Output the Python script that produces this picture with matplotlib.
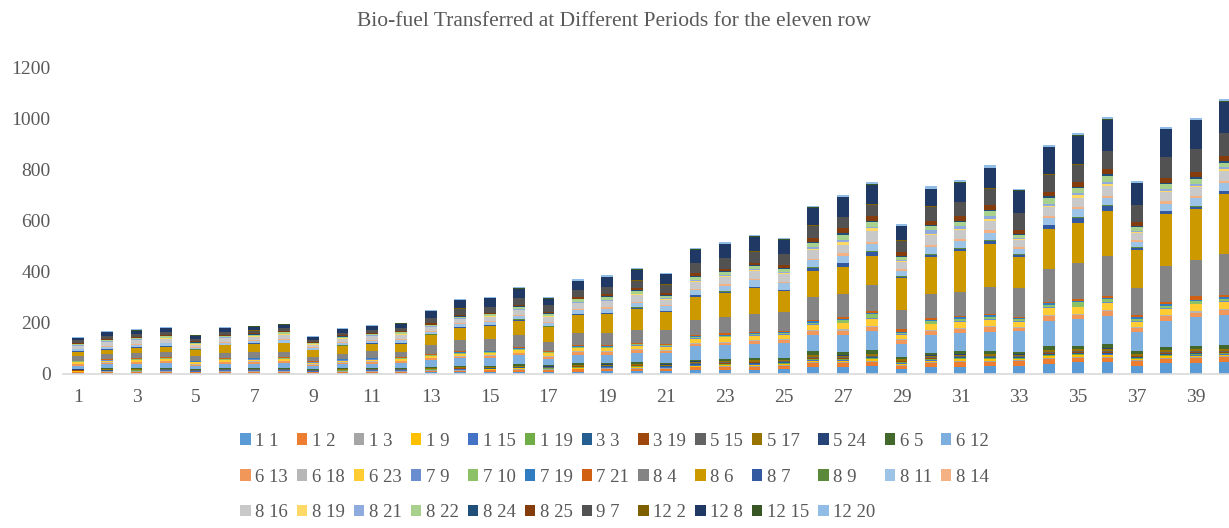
import matplotlib
matplotlib.use("Agg")
import matplotlib.pyplot as plt

periods = list(range(1, 41))

s_1_1 = [3,4,4,4,3,4,4,4,3,4,4,4, 6,6,7,8,8,9,10,11, 10,14,15,16,18,26, 29,30,20,26,29,30,33, 39,46,46,33,42,43,46]
s_1_2 = [4,4,4,5,4,5,5,5,4,4,5,5, 6,7,7,8,8,9,9,10, 9,12,12,13,12,16, 13,16,13,16,17,16,16, 20,16,16,16,17,18,20]
s_1_3 = [2,2,2,2,1,2,2,2,1,2,2,2, 2,2,2,3,2,3,3,3,3,3,4,4,4, 5,5,5,4,5,5,5,4,5,6,6,4,5,5,5]
s_1_9 = [1,1,2,2,1,2,2,2,1,2,2,2, 2,2,3,3,2,3,3,3,3,4,4,4,4, 5,5,6,4,5,6,6,5,6,6,6,5,6,6,5]
s_1_15 = [1,1,1,1,1,1,1,1,1,1,1,1, 1,1,1,1,1,1,1,2,1,2,2,2,2, 2,2,2,2,2,2,2,2,2,2,3,2,2,2,2]
s_1_19 = [1,1,1,1,1,1,1,1,1,1,1,1, 1,1,1,2,1,2,2,2,2,2,2,2,2, 3,3,3,2,3,3,3,2,3,3,3,3,3,3,3]
s_3_3 = [1,1,1,1,1,1,1,1,1,1,1,1, 1,2,2,2,2,2,2,2,2,2,2,3,3, 3,3,3,3,3,3,3,3,4,4,4,3,4,4,3]
s_3_19 = [1,1,1,1,1,1,1,1,1,1,1,1, 1,1,1,1,1,2,2,2,2,2,2,2,2, 3,3,3,2,3,3,3,3,4,3,3,3,4,5,3]
s_5_15 = [1,1,1,1,1,1,1,1,1,1,1,1, 1,1,1,1,1,1,1,1,1,2,2,2,2, 2,2,2,2,2,2,2,2,2,2,3,2,2,2,2]
s_5_17 = [2,2,2,2,2,2,2,2,2,2,2,2, 3,3,3,3,3,4,4,4,4,5,5,5,5, 9,6,7,5,6,6,7,6,8,8,8,6,8,8,8]
s_5_24 = [1,1,1,1,1,1,1,1,1,1,1,1, 1,1,1,1,1,1,1,1,1,1,1,2,2, 2,2,2,2,2,2,2,2,2,2,2,2,2,3,2]
s_6_5 = [3,3,3,3,3,3,3,3,3,3,3,3, 4,4,4,5,4,5,5,6,5,7,7,7,7, 13,13,14,8,10,10,10,9,13,12,16,9,12,12,13]
s_6_12 = [12,17,17,19,12,16,17,19,12,16,17,20, 26,30,30,35,24,33,33,37, 39,52,55,55,60,65, 68,75,51,68,72,77,81, 98,105,111,75,102,111,118]
s_6_13 = [5,5,5,6,5,6,6,6,5,5,6,6, 6,7,7,8,9,10,10,10, 9,10,10,11,11,13, 16,16,14,16,16,17,13, 20,16,20,16,16,18,20]
s_6_18 = [2,2,2,2,2,2,2,2,2,2,2,2, 2,2,3,3,2,3,3,3,3,4,4,4,4, 4,4,4,4,5,5,5,4,5,5,5,5,5,6,6]
s_6_23 = [6,6,7,7,6,7,7,7,5,6,7,7, 8,9,9,10,12,12,12,13, 12,15,16,17,16,20, 24,27,18,22,24,24,20, 27,24,26,20,24,26,26]
s_7_9 = [1,1,1,1,1,1,1,1,1,1,1,1, 1,1,1,1,1,2,2,2,2,2,2,2,2, 3,3,3,2,3,3,3,3,3,3,3,3,3,3,3]
s_7_10 = [2,2,2,2,2,2,2,2,2,2,2,2, 2,3,3,3,3,4,4,4,4,5,5,5,5, 7,9,17,6,9,8,9,6,8,17,12,9,9,9,9]
s_7_19 = [1,1,2,2,1,2,2,2,1,2,2,2, 2,2,2,3,2,3,3,3,3,3,4,4,4, 5,5,5,4,5,5,5,4,7,6,6,5,6,6,7]
s_7_21 = [2,2,2,2,2,2,2,2,2,3,2,2, 3,4,3,3,4,4,4,4,4,5,5,5,5, 6,6,5,10,6,6,6,6,6,6,6,9,9,14,8]
s_8_4 = [17,20,21,21,20,20,24,22,17,20,26,20, 35,43,46,50,35,48,46,50, 52,60,62,70,71,89, 93,101,75,94,94,105,112, 130,140,158,105,141,140,160]
s_8_6 = [18,17,20,21,22,30,31,33,25,29,29,33, 38,48,51,55,56,69,74,81, 70,90,95,100,82,103, 106,114,124,148,158,170,123, 153,158,173,150,205,200,233]
s_8_7 = [2,2,2,2,2,2,2,2,2,2,2,2, 2,3,3,3,3,4,4,4,4,5,5,5,5, 11,12,17,6,8,9,10,7,16,20,20,8,9,10,12]
s_8_9 = [1,1,1,1,1,1,1,1,1,1,1,1, 1,1,1,2,1,2,2,2,2,2,2,2,2, 3,3,3,2,3,3,3,2,3,3,3,3,3,3,3]
s_8_11 = [6,9,9,10,6,8,8,11,6,9,9,11, 10,12,12,14,15,14,16,18, 17,20,22,24,25,26, 27,29,20,26,27,30,21, 26,30,29,21,26,29,29]
s_8_14 = [3,3,3,3,3,3,3,3,3,3,3,3, 3,3,3,4,3,4,4,4,4,5,5,5,5, 7,10,8,7,9,8,9,7,8,8,9,7,10,10,9]
s_8_16 = [10,14,14,15,10,13,13,17,10,14,15,18, 14,15,16,17,19,22,24,26, 22,27,28,30,30,34, 33,42,26,37,35,35,27, 33,37,37,26,35,33,39]
s_8_19 = [2,2,2,2,2,2,2,2,2,2,2,2, 2,2,2,3,2,3,3,3,3,4,4,4,4, 5,10,10,5,6,6,7,5,7,10,8,5,7,7,7]
s_8_21 = [2,2,2,2,2,2,2,2,2,2,2,2, 2,2,2,3,2,3,3,3,3,4,4,4,4, 6,10,6,5,13,10,13,5,8,8,8,5,7,7,7]
s_8_22 = [4,4,5,5,4,4,5,5,3,4,4,5, 5,6,6,7,8,10,10,11, 9,12,12,13,12,17, 20,20,13,16,18,20,11, 20,20,22,13,17,20,17]
s_8_24 = [2,2,2,2,2,2,2,2,2,2,2,2, 2,2,2,2,2,3,3,3,3,3,3,3,3, 4,7,5,4,5,5,5,4,8,5,10,4,5,7,6]
s_8_25 = [3,4,4,4,3,4,4,4,3,4,4,4, 6,5,5,6,7,7,8,8, 8,9,9,10,12,16, 18,17,13,16,17,20,16, 16,18,20,16,20,20,20]
s_9_7 = [9,10,10,10,8,10,10,9,7,9,10,11, 20,25,22,26,24,26,30,29, 33,39,43,43,43,46, 43,44,44,55,55,63,65, 68,69,68,67,82,88,90]
s_12_2 = [1,1,1,1,1,1,1,1,1,1,1,1, 1,1,1,1,1,1,1,1,1,2,2,2,2, 2,2,2,2,2,2,2,2,2,2,2,2,2,2,2]
s_12_8 = [9,14,13,14,13,14,14,14,10,12,13,16, 25,33,34,37,26,35,38,42, 39,52,52,57,55,68, 76,77,55,68,74,78,85, 106,111,122,84,107,112,122]
s_12_15 = [1,1,1,1,1,1,1,1,1,1,1,1, 1,1,1,1,1,1,1,1,1,2,2,2,2, 2,2,2,2,2,2,2,2,2,2,2,2,2,2,2]
s_12_20 = [3,3,3,3,3,3,3,3,3,3,3,3, 3,4,4,4,4,5,5,5,5,6,6,6,6, 7,8,8,6,8,8,8,7,8,9,9,7,8,8,8]

series_labels = ["1 1", "1 2", "1 3", "1 9", "1 15", "1 19", "3 3", "3 19", "5 15", "5 17",
                 "5 24", "6 5", "6 12", "6 13", "6 18", "6 23", "7 9", "7 10", "7 19", "7 21",
                 "8 4", "8 6", "8 7", "8 9", "8 11", "8 14", "8 16", "8 19", "8 21", "8 22",
                 "8 24", "8 25", "9 7", "12 2", "12 8", "12 15", "12 20"]
series_values = [s_1_1, s_1_2, s_1_3, s_1_9, s_1_15, s_1_19, s_3_3, s_3_19, s_5_15, s_5_17,
                 s_5_24, s_6_5, s_6_12, s_6_13, s_6_18, s_6_23, s_7_9, s_7_10, s_7_19, s_7_21,
                 s_8_4, s_8_6, s_8_7, s_8_9, s_8_11, s_8_14, s_8_16, s_8_19, s_8_21, s_8_22,
                 s_8_24, s_8_25, s_9_7, s_12_2, s_12_8, s_12_15, s_12_20]
series_colors = ["#5B9BD5", "#ED7D31", "#A5A5A5", "#FFC000", "#4472C4", "#70AD47", "#255E91",
                 "#9E480E", "#636363", "#997300", "#264478", "#43682B", "#7CAFDD", "#F1975A",
                 "#B7B7B7", "#FFCD33", "#698ED0", "#8CC168", "#327DC2", "#D26012", "#848484",
                 "#CC9A00", "#335AA1", "#5A8A39", "#9DC3E6", "#F4B183", "#C9C9C9", "#FFD966",
                 "#8FAADC", "#A9D18E", "#1F4E79", "#843C0C", "#525252", "#7F6000", "#203864",
                 "#375623", "#91BCE5"]

title = "Bio-fuel Transferred at Different Periods for the eleven row"
text_color = "#595959"

plt.rcParams['font.family'] = ['Liberation Serif', 'DejaVu Serif']

W, H = 1229, 528
fig = plt.figure(figsize=(W / 100, H / 100), dpi=100)
ax = fig.add_axes([63 / W, 154 / H, 1166 / W, 307 / H])

bottom = [0] * len(periods)
handles = []
for lab, vals, col in zip(series_labels, series_values, series_colors):
    assert len(vals) == len(periods)
    h = ax.bar(periods, vals, width=0.4, bottom=bottom, color=col, label=lab, linewidth=0)
    handles.append(h)
    bottom = [b + v for b, v in zip(bottom, vals)]

ax.set_ylim(0, 1200)
ax.set_yticks(range(0, 1201, 200))
ax.set_xlim(0.5, 40.13)
ax.set_xticks(periods[::2])
ax.set_xticklabels([str(p) for p in periods[::2]])
for s in ("top", "right", "left"):
    ax.spines[s].set_visible(False)
ax.spines["bottom"].set_color("#D9D9D9")
ax.spines["bottom"].set_linewidth(1.2)
ax.tick_params(axis="both", length=0, labelsize=14, colors=text_color)
ax.tick_params(axis="x", pad=11)
ax.tick_params(axis="y", pad=9)

fig.text(0.5, 1 - 22 / H, title, ha="center", va="center", fontsize=15.5, color=text_color)

# legend: row-major order in 13 columns (matplotlib fills column-first)
ncol = 13
rows = [list(range(i, min(i + ncol, len(series_labels)))) for i in range(0, len(series_labels), ncol)]
order = []
for c in range(ncol):
    for r in rows:
        if c < len(r):
            order.append(r[c])
leg = fig.legend([handles[i] for i in order], [series_labels[i] for i in order],
                 ncol=ncol, loc="center", bbox_to_anchor=(0.5, 51 / H), frameon=False,
                 fontsize=13.5, handlelength=0.55, handleheight=0.55, handletextpad=0.25,
                 columnspacing=0.48, labelspacing=1.0)
for t in leg.get_texts():
    t.set_color(text_color)

fig.savefig("out.png", dpi=100)
